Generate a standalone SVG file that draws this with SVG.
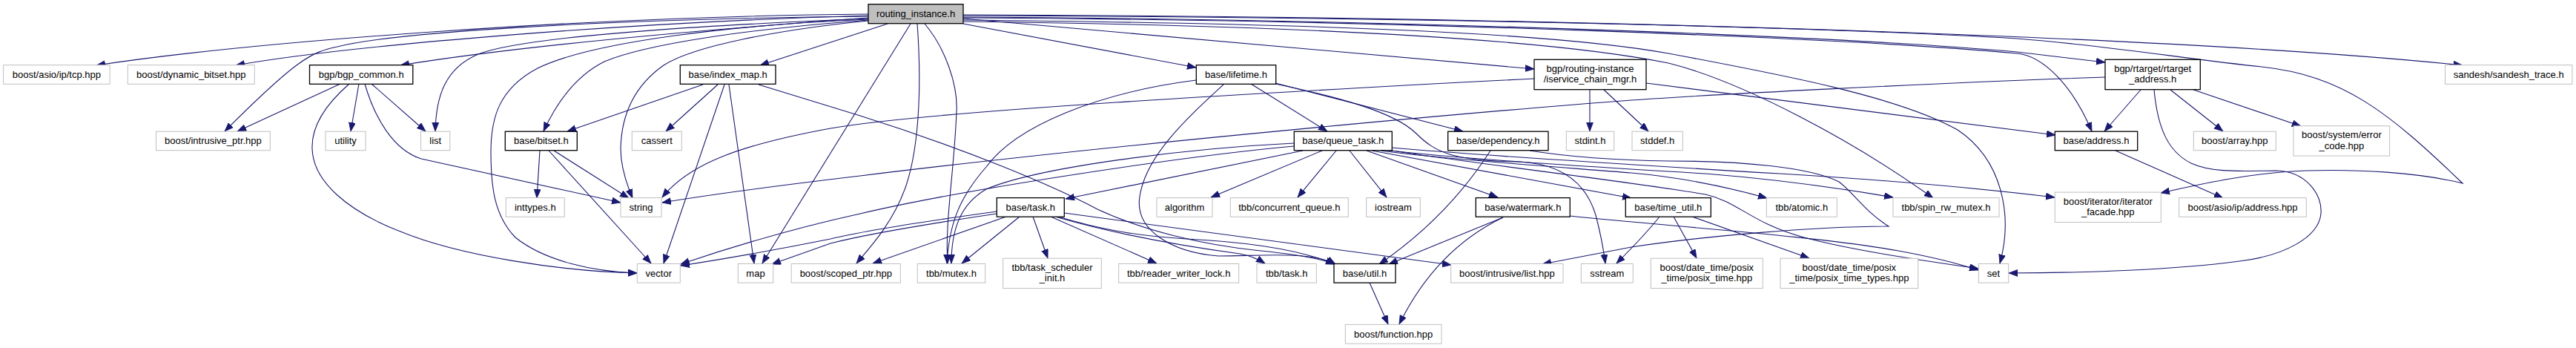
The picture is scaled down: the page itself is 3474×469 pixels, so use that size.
<svg xmlns="http://www.w3.org/2000/svg" width="3474" height="469" viewBox="0 0 3474 469">
<style>
.bg{fill:#ffffff}
rect.u{fill:#ffffff;stroke:#bfbfbf;stroke-width:1}
rect.d{fill:#ffffff;stroke:#000000;stroke-width:1.3}
rect.r{fill:#bfbfbf;stroke:#000000;stroke-width:1.3}
text{font-family:"Liberation Sans",Arial,Helvetica,sans-serif;font-size:13px;fill:#000000;text-anchor:middle}
.e{fill:none;stroke:#191970;stroke-width:1.1;marker-end:url(#ah)}
</style>
<defs>
<marker id="ah" markerWidth="13" markerHeight="10" refX="12" refY="4.5" orient="auto" markerUnits="userSpaceOnUse">
<path d="M0,0 L12,4.5 L0,9 z" fill="#191970" stroke="#191970" stroke-width="0.8"/>
</marker>
</defs>
<rect class="bg" x="0" y="0" width="3474" height="469"/>
<g id="edges">
<path class="e" d="M1171,19 C 800,22 350,55 130,88"/>
<path class="e" d="M1171,21 C 850,30 480,60 318,88"/>
<path class="e" d="M1171,22 C 800,26 530,44 455,63 C 420,70 400,80 303,177"/>
<path class="e" d="M1171,24 C 950,40 700,62 540,88"/>
<path class="e" d="M1171,25 C 900,36 700,52 645,73 C 600,92 588,130 587,177"/>
<path class="e" d="M1171,26 C 1000,33 800,55 725,92 C 672,120 662,160 662,205 C 662,250 666,290 695,320 C 735,352 800,366 859,368"/>
<path class="e" d="M1171,27 C 1000,40 870,60 815,83 C 775,103 750,140 733,177"/>
<path class="e" d="M1171,28 C 1050,40 935,62 895,88 C 852,118 838,160 837,200 C 837,225 845,248 853,267"/>
<path class="e" d="M1197,32 L1025,88"/>
<path class="e" d="M1228,32 L1028,355"/>
<path class="e" d="M1237,32 C 1242,100 1242,190 1222,250 C 1205,300 1172,335 1155,355"/>
<path class="e" d="M1247,32 C 1275,65 1292,115 1290,150 C 1287,230 1274,300 1278,355"/>
<path class="e" d="M1299,32 L1613,91"/>
<path class="e" d="M1299,25 L2069,93"/>
<path class="e" d="M1299,20 C 2000,22 2900,45 3321,88"/>
<path class="e" d="M1299,21 C 1900,23 2450,36 2720,52 C 2850,62 2950,80 3050,90 C 3160,102 3220,150 3321,247 C 3260,232 3180,228 3110,230 C 3030,233 2960,250 2914,260"/>
<path class="e" d="M1299,23 C 1900,26 2500,50 2720,70 L2839,84"/>
<path class="e" d="M1299,24 C 1900,27 2500,52 2720,72 C 2755,75 2795,115 2821,177"/>
<path class="e" d="M1299,27 C 1800,32 2100,45 2250,72 C 2400,100 2560,130 2640,175 C 2700,215 2715,290 2697,355"/>
<path class="e" d="M1299,29 C 1800,35 2100,55 2250,85 C 2350,110 2500,190 2607,267"/>
<path class="e" d="M459,113 L320,177"/>
<path class="e" d="M484,113 L473,177"/>
<path class="e" d="M501,113 L574,177"/>
<path class="e" d="M471,113 C 440,140 420,170 421,200 C 422,245 470,285 540,312 C 620,345 760,366 859,368"/>
<path class="e" d="M492,113 C 505,158 530,202 568,214 L837,273"/>
<path class="e" d="M948,114 L765,177"/>
<path class="e" d="M968,114 L898,177"/>
<path class="e" d="M977,114 L895,355"/>
<path class="e" d="M983,114 L1017,355"/>
<path class="e" d="M1023,114 L1160,156 C 1300,200 1420,250 1480,282 C 1540,310 1620,330 1700,338 C 1750,343 1780,348 1800,356"/>
<path class="e" d="M728,203 L724,267"/>
<path class="e" d="M747,203 L848,267"/>
<path class="e" d="M740,203 L878,355"/>
<path class="e" d="M1613,108 C 1480,125 1370,170 1330,225 C 1295,265 1280,300 1277,355"/>
<path class="e" d="M1650,114 C 1600,160 1545,210 1537,265 C 1530,310 1580,340 1643,345 C 1700,345 1770,338 1801,356"/>
<path class="e" d="M1687,113 L1790,177"/>
<path class="e" d="M1720,112 L1973,177"/>
<path class="e" d="M1720,113 C 1800,130 1880,150 1910,180 C 1935,205 1960,217 2046,218 C 2110,220 2140,250 2152,290 C 2160,320 2163,340 2165,355"/>
<path class="e" d="M1745,193 C 1600,200 1400,225 1330,255 C 1295,275 1283,310 1283,355"/>
<path class="e" d="M1745,197 C 1600,210 1300,255 1160,288 C 1060,310 980,335 918,356"/>
<path class="e" d="M1757,203 L1437,268"/>
<path class="e" d="M1783,203 L1633,266"/>
<path class="e" d="M1802,203 L1750,266"/>
<path class="e" d="M1820,203 L1870,266"/>
<path class="e" d="M1843,203 L2020,266"/>
<path class="e" d="M1850,203 L2200,267"/>
<path class="e" d="M1862,203 C 1950,215 2100,225 2200,233 C 2280,240 2340,255 2383,267"/>
<path class="e" d="M1866,202 C 1980,215 2150,225 2300,234 C 2400,242 2490,255 2553,266"/>
<path class="e" d="M1877,199 C 2000,210 2200,222 2400,234 C 2550,243 2680,255 2771,266"/>
<path class="e" d="M1870,202 C 2000,222 2200,245 2300,262 C 2345,272 2360,300 2433,320 C 2500,338 2600,352 2668,362"/>
<path class="e" d="M2010,203 C 1970,265 1920,315 1860,356"/>
<path class="e" d="M2063,203 C 2120,212 2180,216 2250,217 C 2350,217 2440,225 2480,245 C 2500,260 2515,285 2547,305 C 2450,305 2300,318 2200,333 L2080,356"/>
<path class="e" d="M2238,292 C 2220,315 2200,335 2180,355"/>
<path class="e" d="M2257,292 L2288,348"/>
<path class="e" d="M2282,292 L2440,348"/>
<path class="e" d="M2027,293 L1873,356"/>
<path class="e" d="M2027,293 C 1975,318 1925,360 1887,437"/>
<path class="e" d="M2117,291 C 2250,305 2450,318 2560,338 C 2610,347 2640,355 2668,364"/>
<path class="e" d="M1847,381 L1872,437"/>
<path class="e" d="M2069,106 C 1700,125 1250,150 1120,173 C 1000,195 930,220 893,266"/>
<path class="e" d="M2220,112 L2772,182"/>
<path class="e" d="M2144,121 L2144,177"/>
<path class="e" d="M2163,121 L2223,177"/>
<path class="e" d="M2839,104 C 2600,112 2300,128 2200,135 C 2000,150 1500,195 1160,237 C 1050,250 960,262 893,273"/>
<path class="e" d="M2887,121 L2838,177"/>
<path class="e" d="M2927,121 L2998,177"/>
<path class="e" d="M2958,121 L3103,170"/>
<path class="e" d="M2905,121 C 2910,175 2925,205 2955,220 C 2985,234 3030,230 3070,230 C 3110,231 3132,262 3130,288 C 3127,320 3080,345 3020,352 C 2930,364 2800,368 2709,368"/>
<path class="e" d="M2853,203 L2998,267"/>
<path class="e" d="M1344,285 C 1250,298 1170,310 1120,322 C 1050,336 970,350 918,358"/>
<path class="e" d="M1344,288 C 1250,302 1170,315 1120,328 L1041,356"/>
<path class="e" d="M1357,292 L1177,355"/>
<path class="e" d="M1375,292 L1297,355"/>
<path class="e" d="M1393,292 L1413,348"/>
<path class="e" d="M1417,292 L1560,355"/>
<path class="e" d="M1423,292 C 1520,320 1620,335 1672,342 C 1688,345 1698,350 1706,355"/>
<path class="e" d="M1427,292 C 1480,308 1530,318 1600,322 C 1680,326 1750,335 1800,356"/>
<path class="e" d="M1435,287 L1957,357"/>
</g>
<g id="n-routing_instance"><rect class="r" x="1171" y="5.7" width="128" height="26"/><text x="1235" y="23">routing_instance.h</text></g>
<g id="n-tcp"><rect class="u" x="4.6" y="87.7" width="143.5" height="25.6"/><text x="76.4" y="104.8">boost/asio/ip/tcp.hpp</text></g>
<g id="n-dynamic_bitset"><rect class="u" x="172.2" y="87.7" width="171.1" height="25.6"/><text x="257.8" y="104.8">boost/dynamic_bitset.hpp</text></g>
<g id="n-bgp_common"><rect class="d" x="417.5" y="87.7" width="139.3" height="25.6"/><text x="487.2" y="104.8">bgp/bgp_common.h</text></g>
<g id="n-index_map"><rect class="d" x="917.3" y="87.7" width="128.7" height="25.6"/><text x="981.7" y="104.8">base/index_map.h</text></g>
<g id="n-lifetime"><rect class="d" x="1613.3" y="87.7" width="107.4" height="25.6"/><text x="1667" y="104.8">base/lifetime.h</text></g>
<g id="n-iservice_chain_mgr"><rect class="d" x="2069" y="80.3" width="151" height="40.4"/><text x="2144.5" y="97">bgp/routing-instance</text><text x="2144.5" y="111.3">/iservice_chain_mgr.h</text></g>
<g id="n-rtarget_address"><rect class="d" x="2839" y="80.3" width="128.3" height="40.4"/><text x="2903.2" y="97">bgp/rtarget/rtarget</text><text x="2903.2" y="111.3">_address.h</text></g>
<g id="n-sandesh_trace"><rect class="u" x="3297.5" y="87.7" width="171.4" height="25.6"/><text x="3383.2" y="104.8">sandesh/sandesh_trace.h</text></g>
<g id="n-intrusive_ptr"><rect class="u" x="210.5" y="177.2" width="153.8" height="25.5"/><text x="287.4" y="194.3">boost/intrusive_ptr.hpp</text></g>
<g id="n-utility"><rect class="u" x="439" y="177.2" width="54" height="25.5"/><text x="466" y="194.3">utility</text></g>
<g id="n-list"><rect class="u" x="567.5" y="177.2" width="39.3" height="25.5"/><text x="587.2" y="194.3">list</text></g>
<g id="n-bitset"><rect class="d" x="681.3" y="177.2" width="97" height="25.5"/><text x="729.8" y="194.3">base/bitset.h</text></g>
<g id="n-cassert"><rect class="u" x="852.3" y="177.2" width="67" height="25.5"/><text x="885.8" y="194.3">cassert</text></g>
<g id="n-queue_task"><rect class="d" x="1745.3" y="177.2" width="132" height="25.5"/><text x="1811.3" y="194.3">base/queue_task.h</text></g>
<g id="n-dependency"><rect class="d" x="1952.7" y="177.2" width="135.3" height="25.5"/><text x="2020.3" y="194.3">base/dependency.h</text></g>
<g id="n-stdint"><rect class="u" x="2112.3" y="177.2" width="64.4" height="25.5"/><text x="2144.5" y="194.3">stdint.h</text></g>
<g id="n-stddef"><rect class="u" x="2201" y="177.2" width="68.3" height="25.5"/><text x="2235.2" y="194.3">stddef.h</text></g>
<g id="n-address"><rect class="d" x="2771.3" y="177.2" width="111.4" height="25.5"/><text x="2827" y="194.3">base/address.h</text></g>
<g id="n-array"><rect class="u" x="2958.3" y="177.2" width="111" height="25.5"/><text x="3013.8" y="194.3">boost/array.hpp</text></g>
<g id="n-error_code"><rect class="u" x="3093" y="169.7" width="129.7" height="40.4"/><text x="3157.9" y="186.4">boost/system/error</text><text x="3157.9" y="200.7">_code.hpp</text></g>
<g id="n-inttypes"><rect class="u" x="682.3" y="266.6" width="79" height="25.6"/><text x="721.8" y="283.7">inttypes.h</text></g>
<g id="n-string"><rect class="u" x="837" y="266.6" width="55" height="25.6"/><text x="864.5" y="283.7">string</text></g>
<g id="n-task"><rect class="d" x="1344.3" y="266.6" width="91" height="25.6"/><text x="1389.8" y="283.7">base/task.h</text></g>
<g id="n-algorithm"><rect class="u" x="1560" y="266.6" width="75" height="25.6"/><text x="1597.5" y="283.7">algorithm</text></g>
<g id="n-concurrent_queue"><rect class="u" x="1659.3" y="266.6" width="159" height="25.6"/><text x="1738.8" y="283.7">tbb/concurrent_queue.h</text></g>
<g id="n-iostream"><rect class="u" x="1842.7" y="266.6" width="72.6" height="25.6"/><text x="1879" y="283.7">iostream</text></g>
<g id="n-watermark"><rect class="d" x="1990.3" y="266.6" width="127" height="25.6"/><text x="2053.8" y="283.7">base/watermark.h</text></g>
<g id="n-time_util"><rect class="d" x="2192.3" y="266.6" width="115" height="25.6"/><text x="2249.8" y="283.7">base/time_util.h</text></g>
<g id="n-atomic"><rect class="u" x="2382.3" y="266.6" width="95" height="25.6"/><text x="2429.8" y="283.7">tbb/atomic.h</text></g>
<g id="n-spin_rw_mutex"><rect class="u" x="2553" y="266.6" width="143" height="25.6"/><text x="2624.5" y="283.7">tbb/spin_rw_mutex.h</text></g>
<g id="n-iterator_facade"><rect class="u" x="2771.3" y="259.1" width="143" height="40.4"/><text x="2842.8" y="275.8">boost/iterator/iterator</text><text x="2842.8" y="290.1">_facade.hpp</text></g>
<g id="n-asio_address"><rect class="u" x="2938.7" y="266.6" width="171.6" height="25.6"/><text x="3024.5" y="283.7">boost/asio/ip/address.hpp</text></g>
<g id="n-vector"><rect class="u" x="859.3" y="355.5" width="58" height="25.6"/><text x="888.3" y="372.6">vector</text></g>
<g id="n-map"><rect class="u" x="995.3" y="355.5" width="47.4" height="25.6"/><text x="1019" y="372.6">map</text></g>
<g id="n-scoped_ptr"><rect class="u" x="1067.2" y="355.5" width="147.1" height="25.6"/><text x="1140.8" y="372.6">boost/scoped_ptr.hpp</text></g>
<g id="n-mutex"><rect class="u" x="1237.3" y="355.5" width="91.4" height="25.6"/><text x="1283" y="372.6">tbb/mutex.h</text></g>
<g id="n-task_scheduler_init"><rect class="u" x="1352.7" y="348.2" width="132.6" height="40.4"/><text x="1419" y="364.9">tbb/task_scheduler</text><text x="1419" y="379.2">_init.h</text></g>
<g id="n-reader_writer_lock"><rect class="u" x="1508.7" y="355.5" width="162" height="25.6"/><text x="1589.7" y="372.6">tbb/reader_writer_lock.h</text></g>
<g id="n-tbb_task"><rect class="u" x="1695" y="355.5" width="80.3" height="25.6"/><text x="1735.2" y="372.6">tbb/task.h</text></g>
<g id="n-util"><rect class="d" x="1799" y="355.5" width="83" height="25.6"/><text x="1840.5" y="372.6">base/util.h</text></g>
<g id="n-intrusive_list"><rect class="u" x="1956.7" y="355.5" width="151.3" height="25.6"/><text x="2032.3" y="372.6">boost/intrusive/list.hpp</text></g>
<g id="n-sstream"><rect class="u" x="2132.3" y="355.5" width="70" height="25.6"/><text x="2167.3" y="372.6">sstream</text></g>
<g id="n-posix_time"><rect class="u" x="2226.3" y="348.2" width="151" height="40.4"/><text x="2301.8" y="364.9">boost/date_time/posix</text><text x="2301.8" y="379.2">_time/posix_time.hpp</text></g>
<g id="n-posix_time_types"><rect class="u" x="2401" y="348.2" width="185.7" height="40.4"/><text x="2493.8" y="364.9">boost/date_time/posix</text><text x="2493.8" y="379.2">_time/posix_time_types.hpp</text></g>
<g id="n-set"><rect class="u" x="2668.3" y="355.5" width="40.4" height="25.6"/><text x="2688.5" y="372.6">set</text></g>
<g id="n-function"><rect class="u" x="1814.3" y="437.4" width="129.7" height="25.8"/><text x="1879.1" y="454.6">boost/function.hpp</text></g>
</svg>
